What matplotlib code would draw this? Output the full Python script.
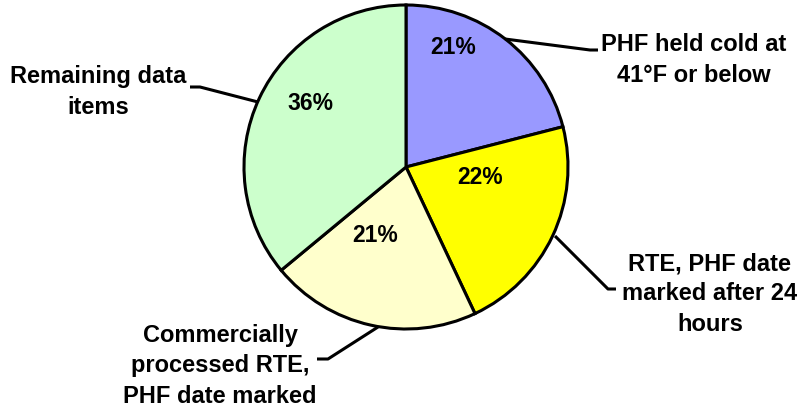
import matplotlib
matplotlib.use('Agg')
import matplotlib.pyplot as plt

# Data
labels = ['PHF held cold at\n41°F or below',
          'RTE, PHF date\nmarked after 24\nhours',
          'Commercially\nprocessed RTE,\nPHF date marked',
          'Remaining data\nitems']
values = [21, 22, 21, 36]
colors = ['#9999FF', '#FFFF00', '#FFFFCC', '#CCFFCC']

# Layout (pixel coords, origin top-left)
W, H = 803, 410
CENTER = (406, 168)
RADIUS = 162
pct_pos = [(453, 48), (480, 178), (375, 236), (310, 104)]
label_pos = [(694, 60), (710, 294), (220, 366), (98, 92)]
leaders = [
    [(505, 40), (590, 51), (598, 51)],
    [(555, 237), (608, 290), (616, 290)],
    [(378, 328), (328, 360), (317, 360)],
    [(258, 103), (200, 88), (190, 88)],
]

plt.rcParams['font.family'] = ['Liberation Sans', 'DejaVu Sans']


def fy(y):
    return H - y


fig = plt.figure(figsize=(W / 100, H / 100), dpi=100)
ax = fig.add_axes([0, 0, 1, 1])

ax.pie(values, colors=colors, startangle=90, counterclock=False,
       center=(CENTER[0], fy(CENTER[1])), radius=RADIUS,
       wedgeprops=dict(edgecolor='black', linewidth=2.2), frame=True)
ax.set_xlim(0, W)
ax.set_ylim(0, H)
ax.set_aspect('equal')
ax.axis('off')

for v, (x, y) in zip(values, pct_pos):
    ax.text(x, fy(y), f'{v}%', ha='center', va='center',
            fontsize=16.5, fontweight='bold', color='black')

for lab, (x, y) in zip(labels, label_pos):
    ax.text(x, fy(y), lab, ha='center', va='center', fontsize=17,
            fontweight='bold', color='black', linespacing=1.4)

for pts in leaders:
    xs = [p[0] for p in pts]
    ys = [fy(p[1]) for p in pts]
    ax.plot(xs, ys, color='black', linewidth=2.2, solid_capstyle='butt')

fig.savefig('out.png', dpi=100)
